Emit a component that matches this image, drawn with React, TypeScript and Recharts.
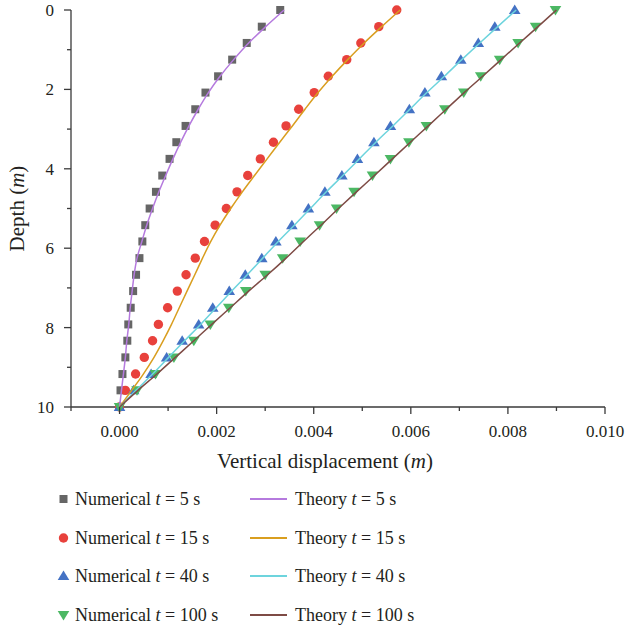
import { Label, Scatter, ScatterChart, XAxis, YAxis } from "recharts";

// depth of the sampling points (m)
const DEPTH = [
  0, 0.42, 0.83, 1.25, 1.67, 2.08, 2.5, 2.92, 3.33, 3.75, 4.17, 4.58, 5,
  5.42, 5.83, 6.25, 6.67, 7.08, 7.5, 7.92, 8.33, 8.75, 9.17, 9.58, 10,
];

// vertical displacement, in 10^-3 m, one value per depth
const NUM_5S = [
  3.31, 2.93, 2.62, 2.32, 2.03, 1.77, 1.56, 1.36, 1.17, 1.03, 0.88, 0.75, 0.62,
  0.53, 0.47, 0.41, 0.34, 0.28, 0.23, 0.18, 0.16, 0.12, 0.06, 0.02, 0,
];
const NUM_15S = [
  5.71, 5.34, 4.97, 4.68, 4.3, 4.01, 3.69, 3.43, 3.17, 2.9, 2.64, 2.42, 2.2,
  1.97, 1.75, 1.56, 1.37, 1.19, 0.99, 0.8, 0.68, 0.51, 0.33, 0.12, 0,
];
const NUM_40S = [
  8.14, 7.73, 7.39, 7.03, 6.63, 6.29, 5.97, 5.58, 5.24, 4.9, 4.58, 4.23, 3.89,
  3.55, 3.22, 2.93, 2.59, 2.26, 1.92, 1.63, 1.29, 0.97, 0.65, 0.29, 0,
];
const NUM_100S = [
  8.98, 8.57, 8.21, 7.83, 7.44, 7.09, 6.7, 6.32, 5.96, 5.58, 5.21, 4.83, 4.47,
  4.12, 3.72, 3.36, 3.0, 2.6, 2.25, 1.87, 1.53, 1.12, 0.74, 0.36, 0,
];

const THEORY_5S = [
  3.39, 3.01, 2.66, 2.35, 2.07, 1.83, 1.62, 1.43, 1.26, 1.1, 0.95, 0.81, 0.68,
  0.56, 0.46, 0.36, 0.3, 0.26, 0.22, 0.19, 0.15, 0.12, 0.08, 0.04, 0,
];
const THEORY_15S = [
  5.78, 5.4, 5.04, 4.7, 4.38, 4.09, 3.82, 3.56, 3.3, 3.04, 2.78, 2.53, 2.29,
  2.07, 1.88, 1.71, 1.55, 1.39, 1.23, 1.07, 0.9, 0.71, 0.49, 0.25, 0,
];
const THEORY_40S = [
  8.17, 7.79, 7.42, 7.05, 6.69, 6.33, 5.98, 5.63, 5.28, 4.94, 4.6, 4.26, 3.93,
  3.6, 3.27, 2.95, 2.63, 2.31, 1.99, 1.67, 1.34, 1.01, 0.68, 0.34, 0,
];
const THEORY_100S = [
  9.0, 8.62, 8.24, 7.86, 7.48, 7.1, 6.73, 6.36, 5.99, 5.62, 5.25, 4.88, 4.51,
  4.15, 3.79, 3.43, 3.05, 2.66, 2.28, 1.9, 1.53, 1.15, 0.77, 0.38, 0,
];

const X_TICKS = [-0.001, 0, 0.001, 0.002, 0.003, 0.004, 0.005, 0.006, 0.007, 0.008, 0.009, 0.01];
const Y_TICKS = [0, 1, 2, 3, 4, 5, 6, 7, 8, 9, 10];

const TIMES = ["5", "15", "40", "100"];

const W = 626;
const H = 630;
const MARGIN = { top: 10, right: 21, left: 11, bottom: 163 };
const Y_AXIS_W = 60;
const X_AXIS_H = 60;
const AXIS_X = MARGIN.left + Y_AXIS_W;
const AXIS_Y = H - MARGIN.bottom - X_AXIS_H;

const FONT = "Liberation Serif";
const INK = "#231f20";
const AXIS = "#3a3a3a";

const MARK = ["#666666", "#e8413c", "#4472c4", "#4cb864"];
const LINE = ["#b57ade", "#d99e1f", "#6dd4dd", "#7e4b45"];

const toPoints = (vals: number[]) => vals.map((v, i) => ({ x: v / 1000, y: DEPTH[i] }));

function Marker({ kind, cx, cy }: { kind: number; cx: number; cy: number }) {
  const c = MARK[kind];
  if (kind === 0) return <rect x={cx - 4} y={cy - 4} width={8} height={8} fill={c} />;
  if (kind === 1) return <circle cx={cx} cy={cy} r={4.7} fill={c} />;
  if (kind === 2)
    return <polygon points={`${cx},${cy - 5.5} ${cx + 5.8},${cy + 4} ${cx - 5.8},${cy + 4}`} fill={c} />;
  return <polygon points={`${cx},${cy + 5.5} ${cx + 5.8},${cy - 4} ${cx - 5.8},${cy - 4}`} fill={c} />;
}

const XTick = (props: any) => {
  const { payload } = props;
  const x = payload.coordinate ?? props.x;
  const major = Math.round(payload.value * 1000) % 2 === 0;
  return (
    <g>
      <line x1={x} x2={x} y1={AXIS_Y} y2={AXIS_Y + (major ? 7 : 4)} stroke={AXIS} strokeWidth={1.3} />
      {major && (
        <text x={x} y={AXIS_Y + 30} textAnchor="middle" style={{ fontFamily: FONT }} fontSize={17} fill={INK}>
          {payload.value.toFixed(3)}
        </text>
      )}
    </g>
  );
};

const YTick = (props: any) => {
  const { payload } = props;
  const y = payload.coordinate ?? props.y;
  const major = payload.value % 2 === 0;
  return (
    <g>
      <line x1={AXIS_X - (major ? 7 : 4)} x2={AXIS_X} y1={y} y2={y} stroke={AXIS} strokeWidth={1.3} />
      {major && (
        <text x={AXIS_X - 17} y={y} dy="0.35em" textAnchor="end" style={{ fontFamily: FONT }} fontSize={17} fill={INK}>
          {payload.value}
        </text>
      )}
    </g>
  );
};

const legendText = {
  position: "absolute" as const,
  height: 24,
  lineHeight: "24px",
  fontFamily: FONT,
  fontSize: 18,
  color: INK,
  whiteSpace: "nowrap" as const,
};

export default function App() {
  const numerical = [NUM_5S, NUM_15S, NUM_40S, NUM_100S];
  const theory = [THEORY_5S, THEORY_15S, THEORY_40S, THEORY_100S];

  return (
    <div style={{ position: "absolute", left: 0, top: 0, width: W, height: H, background: "#fff" }}>
      <ScatterChart width={W} height={H} margin={MARGIN}>
        <XAxis
          type="number"
          dataKey="x"
          domain={[-0.001, 0.01]}
          ticks={X_TICKS}
          interval={0}
          height={X_AXIS_H}
          tick={XTick}
          tickLine={false}
          axisLine={{ stroke: AXIS, strokeWidth: 1.3 }}
          allowDataOverflow
        >
          <Label
            content={() => (
              <text x={325} y={468} textAnchor="middle" style={{ fontFamily: FONT }} fontSize={21} fill={INK}>
                Vertical displacement (<tspan fontStyle="italic">m</tspan>)
              </text>
            )}
          />
        </XAxis>
        <YAxis
          type="number"
          dataKey="y"
          reversed
          domain={[0, 10]}
          ticks={Y_TICKS}
          interval={0}
          width={Y_AXIS_W}
          tick={YTick}
          tickLine={false}
          axisLine={{ stroke: AXIS, strokeWidth: 1.3 }}
        >
          <Label
            content={() => (
              <text
                transform={`translate(24, ${(MARGIN.top + AXIS_Y) / 2}) rotate(-90)`}
                textAnchor="middle"
                style={{ fontFamily: FONT }}
                fontSize={21}
                fill={INK}
              >
                Depth (<tspan fontStyle="italic">m</tspan>)
              </text>
            )}
          />
        </YAxis>
        {numerical.map((vals, k) => (
          <Scatter
            key={`num-${k}`}
            data={toPoints(vals)}
            isAnimationActive={false}
            shape={(p: any) => <Marker kind={k} cx={p.cx} cy={p.cy} />}
          />
        ))}
        {theory.map((vals, k) => (
          <Scatter
            key={`th-${k}`}
            data={toPoints(vals)}
            isAnimationActive={false}
            line={{ stroke: LINE[k], strokeWidth: 1.5 }}
            lineJointType="monotoneY"
            shape={() => <g />}
          />
        ))}
      </ScatterChart>

      {TIMES.map((t, k) => {
        const cy = Math.round(499 + k * 38.7);
        return (
          <div key={t}>
            <svg style={{ position: "absolute", left: 55, top: cy - 9 }} width={18} height={18}>
              <Marker kind={k} cx={8.5} cy={9} />
            </svg>
            <div style={{ ...legendText, left: 75, top: cy - 12 }}>
              Numerical <i>t</i> = {t} s
            </div>
            <div
              style={{ position: "absolute", left: 250, top: cy - 1, width: 37, height: 2, background: LINE[k] }}
            />
            <div style={{ ...legendText, left: 295, top: cy - 12 }}>
              Theory <i>t</i> = {t} s
            </div>
          </div>
        );
      })}
    </div>
  );
}
